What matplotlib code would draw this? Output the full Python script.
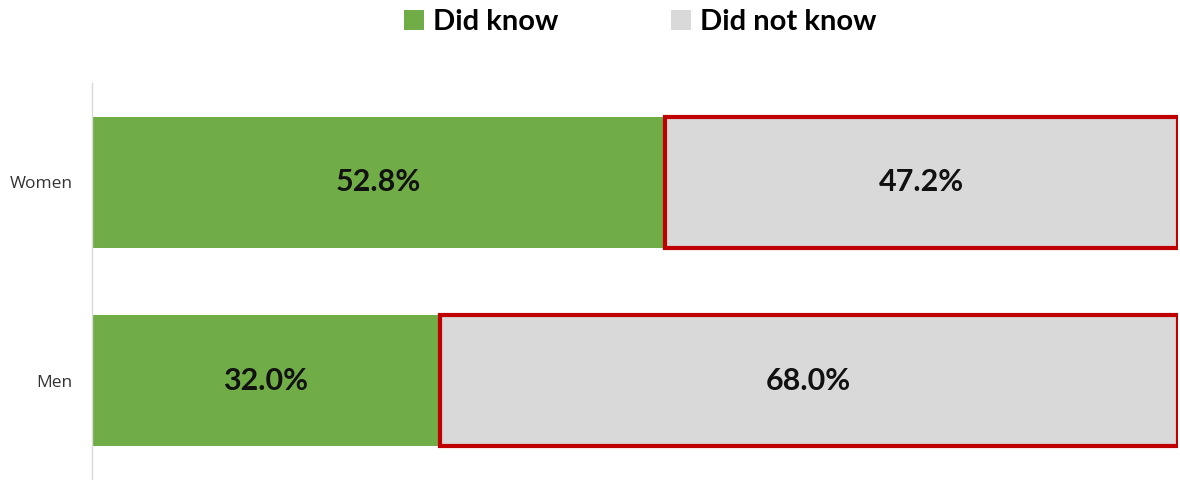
import matplotlib.pyplot as plt
from matplotlib.patches import Patch

# survey results
groups = ["Men", "Women"]
did_know = [32.0, 52.8]
did_not_know = [68.0, 47.2]

green = "#70AD47"
grey = "#D9D9D9"
red = "#C00000"

plt.rcParams['font.family'] = ['Open Sans', 'DejaVu Sans']
bold_font = ['Lato', 'DejaVu Sans']

fig = plt.figure(figsize=(11.8, 4.8), dpi=100)
ax = fig.add_axes([92 / 1180, 0.0, 1086 / 1180, 1 - 83 / 480])

pos = range(len(groups))
ax.barh(pos, did_know, height=0.66, color=green, label="Did know")
ax.barh(pos, did_not_know, height=0.66, left=did_know, color=grey,
        edgecolor=red, linewidth=3, label="Did not know")

for i in pos:
    ax.text(did_know[i] / 2, i, f"{did_know[i]:.1f}%", ha="center", va="center",
            fontsize=22, fontweight="bold", family=bold_font, color="#111111")
    ax.text(did_know[i] + did_not_know[i] / 2, i, f"{did_not_know[i]:.1f}%",
            ha="center", va="center", fontsize=22, fontweight="bold",
            family=bold_font, color="#111111")

ax.set_xlim(0, 100)
ax.set_ylim(-0.5, 1.5)
ax.set_yticks(list(pos))
ax.set_yticklabels(groups, fontsize=12.5, color="#333333")
ax.tick_params(axis="y", length=0, pad=14)
ax.set_xticks([])
for s in ["top", "right", "bottom"]:
    ax.spines[s].set_visible(False)
ax.spines["left"].set_color("#D9D9D9")
ax.spines["left"].set_linewidth(1)

handles = [Patch(facecolor=green, edgecolor="none", label="Did know"),
           Patch(facecolor=grey, edgecolor="none", label="Did not know")]
fig.legend(handles=handles, loc="center", bbox_to_anchor=(0.5425, 1 - 22 / 480), ncol=2,
           frameon=False, handlelength=0.7, handleheight=0.7, handletextpad=0.3,
           columnspacing=3.85, prop={"size": 21, "weight": "bold", "family": bold_font})

fig.savefig("out.png", dpi=100)
